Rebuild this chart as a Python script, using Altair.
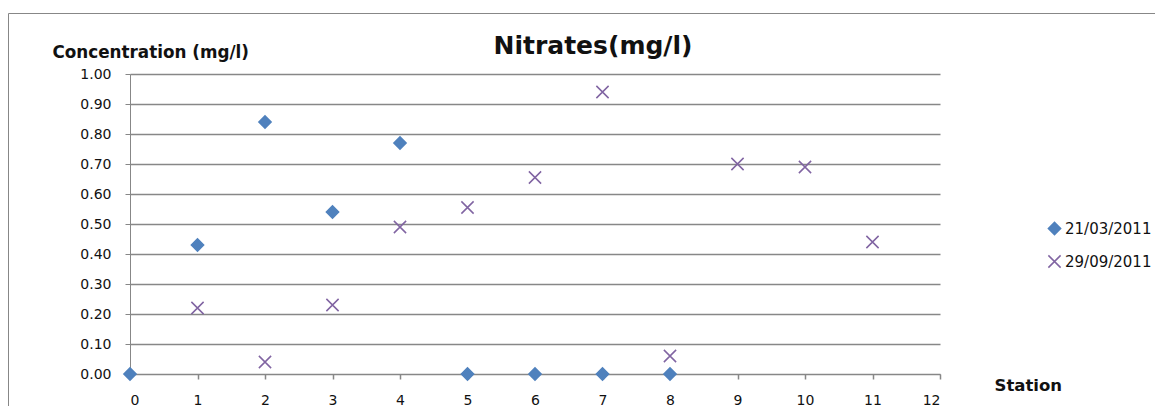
import altair as alt
import pandas as pd

# Series 1: 21/03/2011
stations_a = [0, 1, 2, 3, 4, 5, 6, 7, 8]
values_a = [0.00, 0.43, 0.84, 0.54, 0.77, 0.00, 0.00, 0.00, 0.00]
# Series 2: 29/09/2011
stations_b = [1, 2, 3, 4, 5, 6, 7, 8, 9, 10, 11]
values_b = [0.22, 0.04, 0.23, 0.49, 0.555, 0.655, 0.94, 0.06, 0.70, 0.69, 0.44]

series_names = ["21/03/2011", "29/09/2011"]
series_colors = ["#4F81BD", "#8064A2"]
series_shapes = ["diamond", "M-1,-1L1,1M-1,1L1,-1"]
x_ticks = list(range(13))
y_ticks = [0.0, 0.1, 0.2, 0.3, 0.4, 0.5, 0.6, 0.7, 0.8, 0.9, 1.0]

df = pd.DataFrame({
    "station": stations_a + stations_b,
    "value": values_a + values_b,
    "series": [series_names[0]] * len(stations_a) + [series_names[1]] * len(stations_b),
})

W, H = 810, 300
FONT = "DejaVu Sans"
GRAY = "#878787"
TXT = "#111111"

leg = alt.Legend(
    title=None, orient="none", legendX=917, legendY=147,
    labelFont=FONT, labelFontSize=15, labelColor=TXT,
    symbolSize=150, symbolStrokeWidth=1.5, rowPadding=14, labelOffset=3,
)

points = alt.Chart(df).mark_point(filled=True, size=150, strokeWidth=1.5, opacity=1).encode(
    x=alt.X("station:Q",
            scale=alt.Scale(domain=[0, 12], nice=False, zero=False),
            axis=alt.Axis(values=x_ticks, format="d", grid=False,
                          domainColor=GRAY, tickColor=GRAY, tickSize=5, tickWidth=1.5,
                          labelFont=FONT, labelFontSize=14, labelColor=TXT, labelPadding=14,
                          title="Station", titleFont=FONT, titleFontSize=16.5, titleFontWeight="bold",
                          titleColor=TXT, titleAngle=0, titleAlign="left", titleBaseline="alphabetic",
                          titleX=864, titleY=16)),
    y=alt.Y("value:Q",
            scale=alt.Scale(domain=[0, 1], nice=False),
            axis=alt.Axis(values=y_ticks, format=".2f", grid=True, gridColor=GRAY, gridWidth=1.3,
                          domainColor=GRAY, tickColor=GRAY, tickSize=5,
                          labelFont=FONT, labelFontSize=14, labelColor=TXT, labelPadding=14,
                          title="Concentration (mg/l)", titleFont=FONT, titleFontSize=16.8,
                          titleFontWeight="bold", titleColor=TXT, titleAngle=0,
                          titleAlign="left", titleBaseline="alphabetic",
                          titleX=-78, titleY=-17)),
    color=alt.Color("series:N", scale=alt.Scale(domain=series_names, range=series_colors), legend=leg),
    stroke=alt.Stroke("series:N", scale=alt.Scale(domain=series_names, range=series_colors), legend=leg),
    shape=alt.Shape("series:N", scale=alt.Scale(domain=series_names, range=series_shapes), legend=leg),
)

frame = alt.Chart(pd.DataFrame({"k": [0]})).mark_rect(
    fill="transparent", stroke=GRAY, strokeWidth=1
).encode(
    x=alt.value(-121.5), x2=alt.value(1100), y=alt.value(-60.5), y2=alt.value(400)
)

chart = alt.layer(frame, points).properties(
    width=W, height=H,
    title=alt.TitleParams("Nitrates(mg/l)", font=FONT, fontSize=25, fontWeight="bold",
                          color=TXT, anchor="middle", baseline="alphabetic", dx=58, dy=70),
    autosize=alt.AutoSizeParams(type="none"),
    padding={"left": 122, "top": 66, "right": 215, "bottom": 32},
).configure_view(strokeWidth=0)

chart.save("out.html", embed_options={"renderer": "svg", "actions": False})
